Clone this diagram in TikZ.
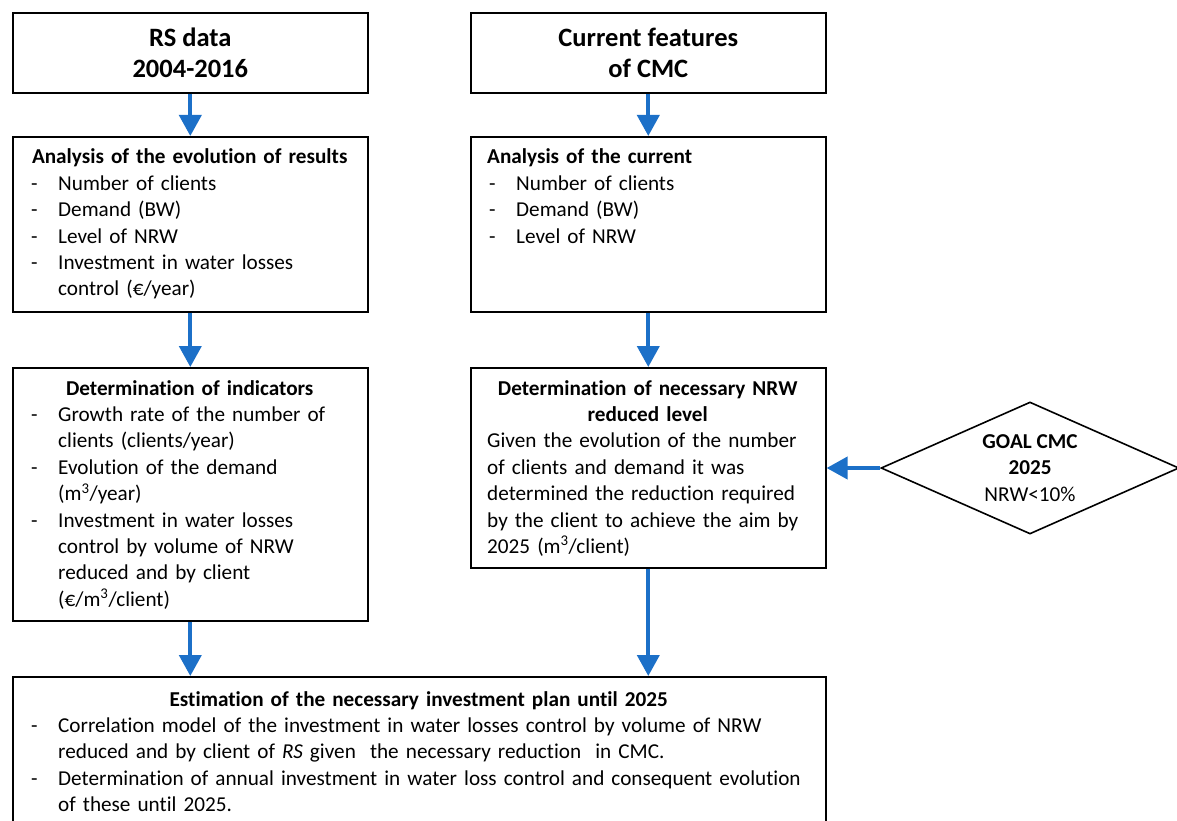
\documentclass[tikz,border=0pt]{standalone}
\usepackage{fontspec}
\setmainfont{Carlito}[Ligatures=NoCommon]
\usetikzlibrary{arrows.meta,shapes.geometric}
\definecolor{arrowblue}{RGB}{28,112,200}
\newcommand\dashitem[1]{\leavevmode\hspace*{7pt}\makebox[27pt][l]{-}{#1}}
\newcommand\contline[1]{\leavevmode\hspace*{34pt}{#1}}
\newcommand\plainln[1]{\leavevmode\hspace*{5pt}{#1}}
\newcommand\centln[1]{\leavevmode\hbox to \linewidth{\hfil#1\hfil}}
\begin{document}
\begin{tikzpicture}[x=1pt,y=-1pt,
  box/.style={draw=black,line width=1.6pt,rectangle,inner sep=0pt,anchor=north west},
  txt/.style={inner sep=0pt,anchor=base west,align=left,font=\fontsize{21.2}{26.4}\selectfont},
  head/.style={inner sep=0pt,align=center,font=\fontsize{26.5}{31}\selectfont\bfseries},
  flow/.style={draw=arrowblue,line width=4pt,-{Triangle[width=22pt,length=21pt]}}]
\useasboundingbox (0,0) rectangle (1177,821);
\fill[white] (0,0) rectangle (1177,821);
% boxes
\node[box,minimum width=355pt,minimum height=80pt] (rs) at (12,12) {};
\node[box,minimum width=355pt,minimum height=80pt] (cur) at (470,12) {};
\node[box,minimum width=355pt,minimum height=175pt] (ana) at (12,136) {};
\node[box,minimum width=355pt,minimum height=175pt] (anc) at (470,136) {};
\node[box,minimum width=355pt,minimum height=253pt] (ind) at (12,367) {};
\node[box,minimum width=355pt,minimum height=200pt] (nrw) at (470,367) {};
\node[box,minimum width=813pt,minimum height=170pt] (est) at (12,676) {};
\node[diamond,draw=black,line width=1.6pt,inner sep=0pt,minimum width=298pt,minimum height=132pt] (goal) at (1030,468) {};
% texts
\node[head] (rst) at (rs.center) {RS data\\2004-2016};
\node[head] (curt) at (cur.center) {Current features\\of CMC};
\node[txt,text width=331pt] (anat) at (24,164) {%
\centln{\bfseries Analysis of the evolution of results}\\
\dashitem{Number of clients}\\
\dashitem{Demand (BW)}\\
\dashitem{Level of NRW}\\
\dashitem{Investment in water losses}\\
\contline{control (€/year)}};
\node[txt,text width=331pt] (anct) at (482,164) {%
\plainln{\bfseries Analysis of the current}\\
\dashitem{Number of clients}\\
\dashitem{Demand (BW)}\\
\dashitem{Level of NRW}};
\node[txt,text width=331pt] (indt) at (24,395) {%
\centln{\bfseries Determination of indicators}\\
\dashitem{Growth rate of the number of}\\
\contline{clients (clients/year)}\\
\dashitem{Evolution of the demand}\\
\contline{(m\textsuperscript{3}/year)}\\
\dashitem{Investment in water losses}\\
\contline{control by volume of NRW}\\
\contline{reduced and by client}\\
\contline{(€/m\textsuperscript{3}/client)}};
\node[txt,text width=331pt] (nrwt) at (482,395) {%
\centln{\bfseries Determination of necessary NRW}\\
\centln{\bfseries reduced level}\\
\plainln{Given the evolution of the number}\\
\plainln{of clients and demand it was}\\
\plainln{determined the reduction required}\\
\plainln{by the client to achieve the aim by}\\
\plainln{2025 (m\textsuperscript{3}/client)}};
\node[txt,text width=789pt] (estt) at (24,706) {%
\centln{\bfseries Estimation of the necessary investment plan until 2025}\\
\dashitem{Correlation model of the investment in water losses control by volume of NRW}\\
\contline{reduced and by client of \textit{RS} given\ \ the necessary reduction\ \ in CMC.}\\
\dashitem{Determination of annual investment in water loss control and consequent evolution}\\
\contline{of these until 2025.}};
\node[align=center,inner sep=0pt,font=\fontsize{21.2}{26.5}\selectfont] (goalt) at (goal.center) {\textbf{GOAL CMC}\\\textbf{2025}\\NRW<10\%};
% connectors
\draw[flow] (rs.south) -- (ana.north);
\draw[flow] (cur.south) -- (anc.north);
\draw[flow] (ana.south) -- (ind.north);
\draw[flow] (anc.south) -- (nrw.north);
\draw[flow] (ind.south) -- (ind.south |- est.north);
\draw[flow] (nrw.south) -- (nrw.south |- est.north);
\draw[flow] (goal.west) -- (goal.west -| nrw.east);
\end{tikzpicture}
\end{document}
